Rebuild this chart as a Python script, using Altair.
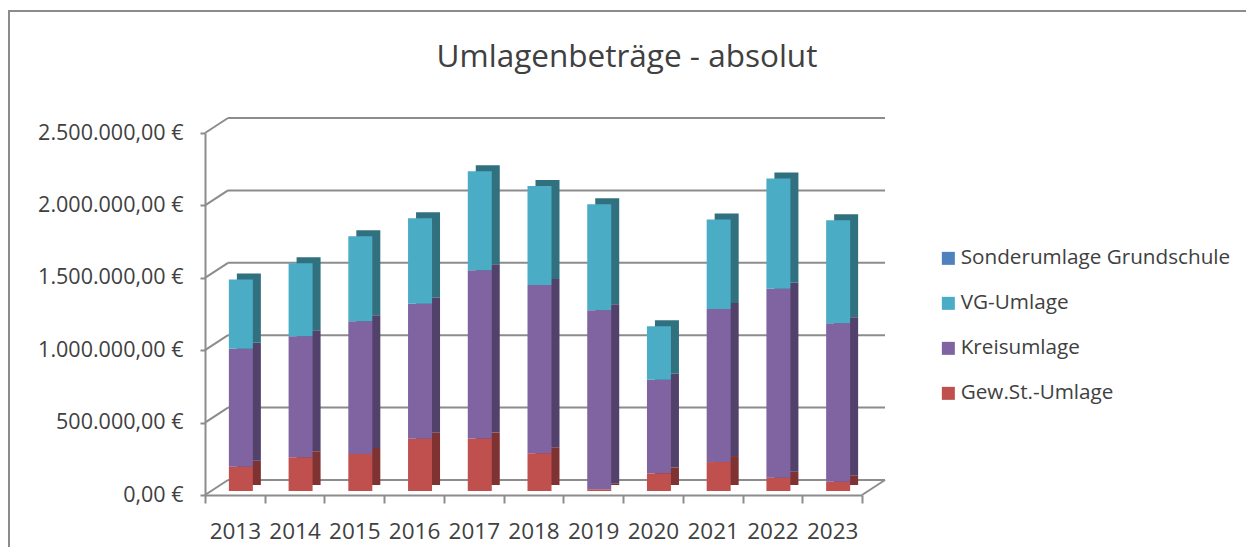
import altair as alt
import pandas as pd

years = ["2013", "2014", "2015", "2016", "2017", "2018", "2019", "2020", "2021", "2022", "2023"]
series = ["Gew.St.-Umlage", "Kreisumlage", "VG-Umlage", "Sonderumlage Grundschule"]
gew = [168000, 233000, 256000, 360000, 362000, 261000, 12000, 122000, 200000, 92000, 64000]
kreis = [815000, 835000, 916000, 934000, 1163000, 1162000, 1236000, 646000, 1057000, 1304000, 1094000]
vg = [477000, 505000, 588000, 590000, 683000, 683000, 733000, 369000, 618000, 763000, 711000]
sonder = [0, 0, 0, 0, 0, 0, 0, 0, 0, 0, 0]
y_ticks = [0, 500000, 1000000, 1500000, 2000000, 2500000]
title_text = "Umlagenbeträge - absolut"

legend_order = ["Sonderumlage Grundschule", "VG-Umlage", "Kreisumlage", "Gew.St.-Umlage"]
front_colors = ["#4F81BD", "#4BACC6", "#8064A2", "#C0504D"]
shade_colors = ["#34557E", "#31707F", "#52416B", "#7E3231"]

rows = []
for i, s in enumerate(series):
    vals = [gew, kreis, vg, sonder][i]
    for y, v in zip(years, vals):
        rows.append({"year": y, "series": s, "value": v, "idx": i})
df = pd.DataFrame(rows)
ticks_df = pd.DataFrame({"tick": y_ticks})

W, H = 657, 362
DX, DY = 23, -15
GRAY = "#8C8C8C"
TXT = "#404040"
FONT = "Open Sans"

yscale = alt.Scale(domain=[0, 2500000], nice=False, zero=True)
xscale = alt.Scale(paddingInner=0, paddingOuter=0)

x_axis = alt.Axis(title=None, labelAngle=0, tickBand="extent", tickSize=8,
                  tickColor=GRAY, tickWidth=2, domainColor=GRAY, domainWidth=2,
                  labelFont=FONT, labelFontSize=22.5, labelColor=TXT,
                  labelPadding=17, grid=False)
y_axis = alt.Axis(title=None, values=y_ticks, grid=False, tickSize=5,
                  tickColor=GRAY, tickWidth=2, domainColor=GRAY, domainWidth=2,
                  labelFont=FONT, labelFontSize=21.5, labelColor=TXT,
                  labelPadding=17,
                  labelExpr="replace(replace(replace(format(datum.value, ',.2f'), regexp(',', 'g'), '#'), regexp('[.]', 'g'), ','), regexp('#', 'g'), '.') + ' €'")

x_enc = alt.X("year:N", scale=xscale, sort=years, axis=x_axis)
y_enc = alt.Y("sum(value):Q", scale=yscale, stack="zero", axis=y_axis)

frame = alt.Chart(alt.Data(values=[{"a": 1}])).mark_rect(
    fill=None, stroke=GRAY, strokeWidth=2
).encode(x=alt.value(-196), x2=alt.value(1200), y=alt.value(-122), y2=alt.value(600))

title = alt.Chart(alt.Data(values=[{"t": title_text}])).mark_text(
    font=FONT, fontSize=31.5, color=TXT, align="center", baseline="alphabetic"
).encode(text="t:N", x=alt.value(422), y=alt.value(-66))

ty = alt.Y("tick:Q", scale=yscale, axis=y_axis)
back_grid = alt.Chart(ticks_df).mark_rule(color=GRAY, strokeWidth=2, yOffset=DY, y2Offset=DY).encode(
    y=ty, y2="tick:Q", x=alt.value(DX), x2=alt.value(W + DX))
connectors = alt.Chart(ticks_df).mark_rule(color=GRAY, strokeWidth=2, y2Offset=DY).encode(
    y=ty, y2="tick:Q", x=alt.value(0), x2=alt.value(DX))
floor_right = alt.Chart(ticks_df).transform_filter("datum.tick == 0").mark_rule(
    color=GRAY, strokeWidth=2, y2Offset=DY).encode(
    y=ty, y2="tick:Q", x=alt.value(W), x2=alt.value(W + DX))

shade = alt.Chart(df).mark_bar(size=24, xOffset=14, x2Offset=14, yOffset=-10, y2Offset=-10).encode(
    x=x_enc, y=y_enc,
    color=alt.Color("series:N", scale=alt.Scale(domain=legend_order, range=shade_colors), legend=None),
    order=alt.Order("idx:Q", sort="ascending"))

front = alt.Chart(df).mark_bar(size=24, xOffset=6, x2Offset=6, yOffset=-4, y2Offset=-4).encode(
    x=x_enc, y=y_enc,
    color=alt.Color("series:N", scale=alt.Scale(domain=legend_order, range=front_colors),
                    legend=alt.Legend(title=None, orient="none", legendX=733, legendY=115,
                                      symbolType="square", symbolSize=169, symbolStrokeWidth=0,
                                      symbolOpacity=1, labelFont=FONT, labelFontSize=20.7,
                                      labelColor=TXT, labelOffset=2, rowPadding=23, labelLimit=400)),
    order=alt.Order("idx:Q", sort="ascending"))

chart = alt.layer(frame, title, back_grid, connectors, floor_right, shade, front).resolve_scale(
    color="independent"
).properties(
    width=W, height=H,
    autosize=alt.AutoSizeParams(type="none"),
    padding={"left": 197, "top": 125, "right": 384, "bottom": 52},
).configure_view(stroke=None)

chart.save("out.html", embed_options={"renderer": "svg", "actions": False})
